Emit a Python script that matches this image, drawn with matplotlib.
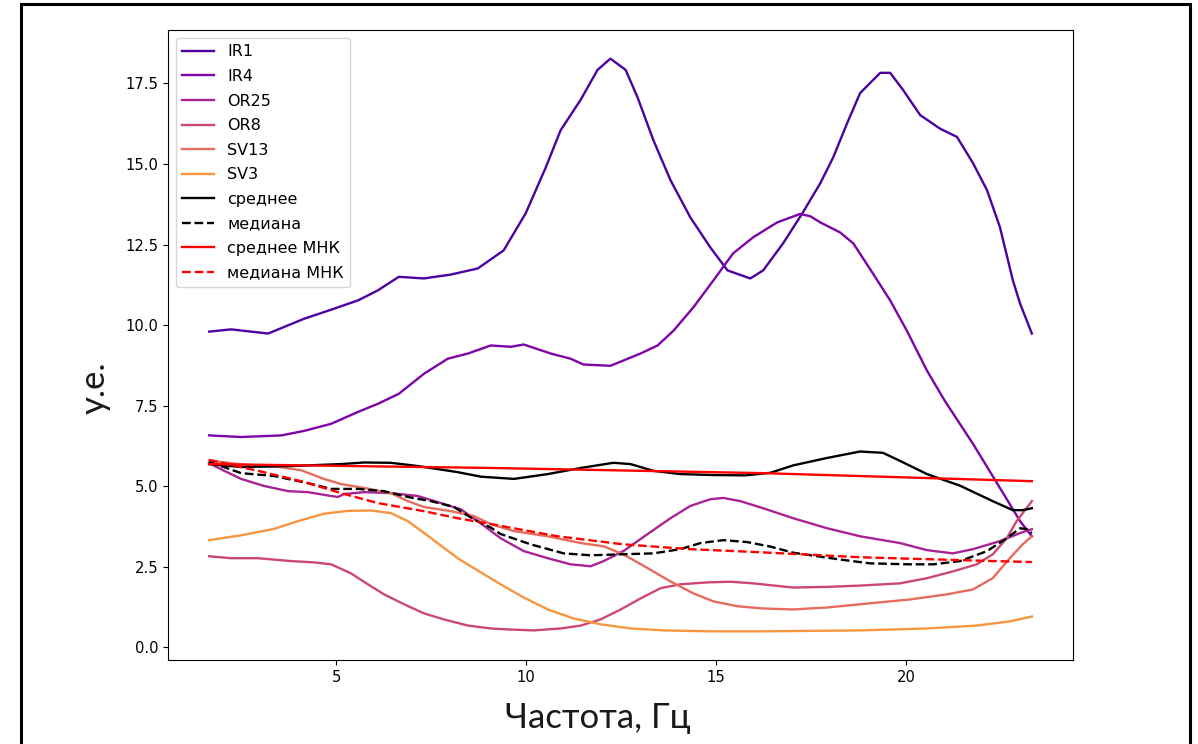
import numpy as np
import matplotlib
matplotlib.use("Agg")
import matplotlib.pyplot as plt
from matplotlib.patches import Rectangle

# --- spectra of the six records (frequency in Hz, amplitude in у.е.) ---
ir1_f = [1.66, 2.24, 3.21, 4.16, 4.87, 5.58, 6.10, 6.65, 7.31, 8.02, 8.73, 9.41,
         9.99, 10.52, 10.91, 11.44, 11.88, 12.22, 12.62, 12.93, 13.35, 13.80, 14.32,
         14.85, 15.30, 15.90, 16.24, 16.77, 17.27, 17.74, 18.08, 18.45, 18.79, 19.32,
         19.58, 19.92, 20.37, 20.89, 21.34, 21.76, 22.13, 22.47, 22.81, 23.00, 23.31]
ir1_v = [9.80, 9.87, 9.74, 10.20, 10.48, 10.77, 11.08, 11.50, 11.45, 11.57, 11.76, 12.32,
         13.47, 14.90, 16.05, 17.00, 17.92, 18.27, 17.92, 17.08, 15.74, 14.50, 13.35,
         12.41, 11.70, 11.45, 11.70, 12.55, 13.47, 14.40, 15.20, 16.27, 17.20, 17.83,
         17.83, 17.30, 16.52, 16.10, 15.84, 15.03, 14.19, 13.04, 11.39, 10.67, 9.74]

ir4_f = [1.66, 2.50, 3.56, 4.16, 4.87, 5.58, 6.10, 6.65, 7.31, 7.94, 8.47, 9.07,
         9.60, 9.94, 10.65, 11.17, 11.51, 12.22, 13.01, 13.46, 13.88, 14.40, 14.93,
         15.45, 15.98, 16.61, 17.21, 17.48, 17.74, 18.26, 18.61, 19.13, 19.58, 20.02,
         20.55, 21.02, 21.76, 22.47, 23.00, 23.31]
ir4_v = [6.58, 6.53, 6.58, 6.72, 6.94, 7.31, 7.56, 7.87, 8.49, 8.96, 9.12, 9.37,
         9.33, 9.40, 9.12, 8.96, 8.78, 8.74, 9.12, 9.37, 9.83, 10.55, 11.39,
         12.23, 12.73, 13.19, 13.45, 13.38, 13.19, 12.88, 12.54, 11.60, 10.77, 9.83,
         8.59, 7.65, 6.32, 4.95, 3.92, 3.45]

or25_f = [1.66, 2.06, 2.50, 3.11, 3.74, 4.26, 4.87, 5.05, 5.21, 5.74, 6.44, 7.15,
          7.76, 8.28, 8.81, 9.33, 9.94, 10.57, 11.17, 11.70, 12.04, 12.56, 13.20,
          13.80, 14.32, 14.85, 15.19, 15.64, 16.24, 17.03, 17.92, 18.79, 19.84,
          20.55, 21.23, 21.76, 22.47, 23.00, 23.31]
or25_v = [5.72, 5.48, 5.23, 5.01, 4.85, 4.82, 4.70, 4.67, 4.76, 4.82, 4.79, 4.70,
          4.48, 4.29, 3.85, 3.39, 2.99, 2.77, 2.58, 2.52, 2.68, 2.99, 3.52,
          4.01, 4.39, 4.60, 4.64, 4.54, 4.32, 4.01, 3.70, 3.45, 3.24,
          3.02, 2.92, 3.05, 3.30, 3.55, 3.67]

or8_f = [1.66, 2.24, 2.95, 3.82, 4.42, 4.87, 5.39, 5.84, 6.26, 6.79, 7.31, 7.84,
         8.47, 9.07, 9.52, 10.20, 10.91, 11.44, 11.96, 12.49, 13.01, 13.54, 14.06,
         14.77, 15.38, 15.98, 16.69, 17.03, 17.92, 18.79, 19.84, 20.55, 21.23,
         21.86, 22.28, 22.65, 22.91, 23.31]
or8_v = [2.83, 2.77, 2.77, 2.68, 2.64, 2.58, 2.30, 1.96, 1.65, 1.34, 1.06, 0.87,
         0.68, 0.59, 0.56, 0.53, 0.59, 0.68, 0.87, 1.18, 1.52, 1.84, 1.96,
         2.02, 2.04, 1.99, 1.90, 1.86, 1.88, 1.92, 1.99, 2.15, 2.36,
         2.58, 2.89, 3.39, 3.92, 4.54]

sv13_f = [1.66, 2.50, 3.50, 4.08, 4.68, 5.13, 5.74, 6.44, 6.89, 7.31, 8.02, 8.62,
          9.07, 9.68, 10.57, 11.44, 12.04, 12.56, 13.20, 13.80, 14.40, 14.93, 15.56,
          16.24, 17.03, 17.92, 19.05, 20.10, 21.08, 21.76, 22.28, 22.73, 23.07, 23.31]
sv13_v = [5.80, 5.68, 5.60, 5.50, 5.23, 5.07, 4.95, 4.79, 4.54, 4.36, 4.23, 4.08,
          3.83, 3.61, 3.45, 3.24, 3.14, 2.89, 2.46, 2.05, 1.68, 1.43, 1.28,
          1.21, 1.18, 1.24, 1.37, 1.49, 1.65, 1.80, 2.15, 2.77, 3.20, 3.45]

sv3_f = [1.66, 2.50, 3.37, 4.08, 4.68, 5.32, 5.92, 6.44, 6.89, 7.50, 8.20, 8.81,
         9.33, 9.94, 10.57, 11.25, 11.96, 12.75, 13.62, 14.93, 16.16, 18.79, 20.55,
         21.86, 22.73, 23.31]
sv3_v = [3.33, 3.48, 3.68, 3.95, 4.15, 4.24, 4.25, 4.17, 3.92, 3.39, 2.77, 2.33,
         1.96, 1.55, 1.18, 0.90, 0.72, 0.59, 0.53, 0.50, 0.50, 0.53, 0.59,
         0.68, 0.81, 0.96]

# --- statistics across the records ---
mean_f = [1.66, 2.50, 3.82, 5.13, 5.74, 6.44, 7.15, 8.20, 8.81, 9.68, 10.57, 11.44,
          12.30, 12.75, 13.35, 14.06, 14.93, 15.77, 16.43, 17.03, 17.92, 18.79,
          19.39, 19.84, 20.55, 21.42, 22.28, 22.81, 23.07, 23.31]
mean_v = [5.69, 5.60, 5.63, 5.69, 5.74, 5.73, 5.63, 5.44, 5.30, 5.23, 5.38, 5.57,
          5.73, 5.69, 5.48, 5.38, 5.35, 5.34, 5.42, 5.65, 5.88, 6.08,
          6.04, 5.79, 5.38, 5.02, 4.54, 4.26, 4.26, 4.32]

median_f = [1.66, 2.50, 3.37, 4.26, 4.87, 5.58, 6.26, 6.89, 7.50, 8.10, 8.62, 9.07,
            9.33, 10.12, 10.99, 11.70, 12.49, 13.35, 14.06, 14.59, 15.19, 15.82,
            16.43, 17.03, 18.26, 19.05, 20.10, 20.71, 21.42, 22.13, 22.65, 23.00,
            23.18, 23.31]
median_v = [5.76, 5.41, 5.32, 5.10, 4.92, 4.92, 4.85, 4.67, 4.54, 4.36, 3.98, 3.72,
            3.52, 3.20, 2.92, 2.86, 2.89, 2.92, 3.05, 3.24, 3.33, 3.27,
            3.13, 2.94, 2.73, 2.61, 2.58, 2.58, 2.68, 2.99, 3.39, 3.70,
            3.67, 3.55]

# --- least-squares trends ---
mean_fit_f = [1.66, 9.07, 16.20, 23.31]
mean_fit_v = [5.69, 5.57, 5.41, 5.16]

median_fit_f = [1.66, 2.95, 4.08, 5.13, 6.10, 7.31, 8.20, 9.07, 10.83, 12.56,
                14.32, 16.07, 18.79, 21.42, 23.31]
median_fit_v = [5.82, 5.48, 5.16, 4.79, 4.48, 4.23, 4.01, 3.83, 3.45, 3.20,
                3.05, 2.96, 2.80, 2.71, 2.65]

records = ["IR1", "IR4", "OR25", "OR8", "SV13", "SV3"]
rec_f = [ir1_f, ir4_f, or25_f, or8_f, sv13_f, sv3_f]
rec_v = [ir1_v, ir4_v, or25_v, or8_v, sv13_v, sv3_v]

plt.rcParams["font.family"] = ["DejaVu Sans"]
plt.rcParams["font.size"] = 10.6

fig = plt.figure(figsize=(11.98, 7.44), dpi=100)
ax = fig.add_axes([168 / 1198, 84 / 744, 905 / 1198, 630 / 744])

colors = plt.cm.plasma(np.linspace(0.125, 0.75, len(records)))
lw = 1.7
for name, f, v, c in zip(records, rec_f, rec_v, colors):
    ax.plot(f, v, color=c, lw=lw, label=name, solid_joinstyle="round")

ax.plot(mean_f, mean_v, color="black", lw=lw, label="среднее", solid_joinstyle="round")
ax.plot(median_f, median_v, color="black", lw=lw, ls="--", label="медиана")
ax.plot(mean_fit_f, mean_fit_v, color="red", lw=lw, label="среднее МНК")
ax.plot(median_fit_f, median_fit_v, color="red", lw=lw, ls="--", label="медиана МНК")

ax.set_xticks([5, 10, 15, 20])
ax.set_yticks(np.arange(0, 17.6, 2.5))
ax.tick_params(labelsize=10.6)

label_font = ["Lato", "DejaVu Sans"]
ax.set_xlabel("Частота, Гц", fontsize=25, family=label_font, color="#1a1a1a")
ax.set_ylabel("у.е.", fontsize=25, family=label_font, color="#1a1a1a")
ax.xaxis.set_label_coords(0.475, -0.066)
ax.yaxis.set_label_coords(-0.063, 0.432)

ax.legend(loc="upper left", fontsize=11.5, labelspacing=0.6)

# page frame around the figure
fig.patches.append(Rectangle((21 / 1198, -0.02), (1190 - 21) / 1198, 1 - 4 / 744 + 0.02,
                             transform=fig.transFigure, fill=False,
                             edgecolor="black", lw=2.2))

fig.savefig("out.png", dpi=100)
